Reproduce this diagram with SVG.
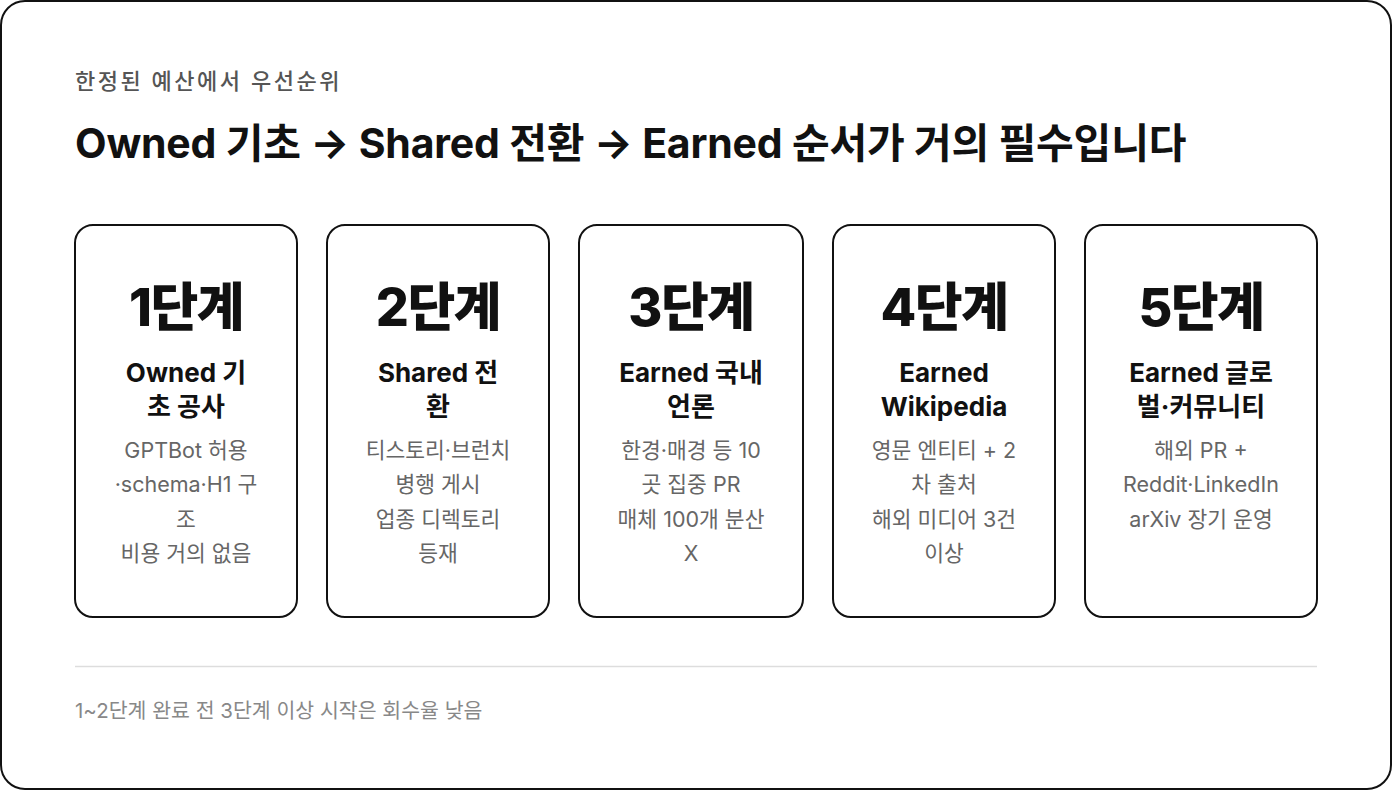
<svg xmlns="http://www.w3.org/2000/svg" width="1392" height="790" viewBox="0 0 1392 790">
<style>
text{font-family:Inter,"Noto Sans CJK KR",sans-serif}
.card{fill:#fff;stroke:#111;stroke-width:2}
.num{font-size:52px;font-weight:800;fill:#111;text-anchor:middle;letter-spacing:-1.5px}
.head{font-size:26px;font-weight:700;fill:#111;text-anchor:middle}
.body{font-size:21.5px;fill:#666;text-anchor:middle}
</style>
<rect x="1" y="1" width="1390" height="788" rx="24" fill="#fff" stroke="#111" stroke-width="2"/>
<text x="75" y="89" font-size="22" font-weight="500" fill="#555" letter-spacing="2.5">한정된 예산에서 우선순위</text>
<text x="75" y="158" font-size="41" font-weight="700" fill="#111" letter-spacing="-0.2">Owned 기초 → Shared 전환 → Earned 순서가 거의 필수입니다</text>
<g id="stage1">
<rect class="card" x="75" y="225" width="222" height="392" rx="18"/>
<text class="num" x="186" y="326">1단계</text>
<text class="head" x="186" y="382">Owned 기</text>
<text class="head" x="186" y="416">초 공사</text>
<text class="body" x="186" y="458">GPTBot 허용</text>
<text class="body" x="186" y="492">·schema·H1 구</text>
<text class="body" x="186" y="527">조</text>
<text class="body" x="186" y="561">비용 거의 없음</text>
</g>
<g id="stage2">
<rect class="card" x="327" y="225" width="222" height="392" rx="18"/>
<text class="num" x="438" y="326">2단계</text>
<text class="head" x="438" y="382">Shared 전</text>
<text class="head" x="438" y="416">환</text>
<text class="body" x="438" y="458">티스토리·브런치</text>
<text class="body" x="438" y="492">병행 게시</text>
<text class="body" x="438" y="527">업종 디렉토리</text>
<text class="body" x="438" y="561">등재</text>
</g>
<g id="stage3">
<rect class="card" x="579" y="225" width="224" height="392" rx="18"/>
<text class="num" x="691" y="326">3단계</text>
<text class="head" x="691" y="382">Earned 국내</text>
<text class="head" x="691" y="416">언론</text>
<text class="body" x="691" y="458">한경·매경 등 10</text>
<text class="body" x="691" y="492">곳 집중 PR</text>
<text class="body" x="691" y="527">매체 100개 분산</text>
<text class="body" x="691" y="561">X</text>
</g>
<g id="stage4">
<rect class="card" x="833" y="225" width="222" height="392" rx="18"/>
<text class="num" x="944" y="326">4단계</text>
<text class="head" x="944" y="382">Earned</text>
<text class="head" x="944" y="416">Wikipedia</text>
<text class="body" x="944" y="458">영문 엔티티 + 2</text>
<text class="body" x="944" y="492">차 출처</text>
<text class="body" x="944" y="527">해외 미디어 3건</text>
<text class="body" x="944" y="561">이상</text>
</g>
<g id="stage5">
<rect class="card" x="1085" y="225" width="232" height="392" rx="18"/>
<text class="num" x="1201" y="326">5단계</text>
<text class="head" x="1201" y="382">Earned 글로</text>
<text class="head" x="1201" y="416">벌·커뮤니티</text>
<text class="body" x="1201" y="458">해외 PR +</text>
<text class="body" x="1201" y="492">Reddit·LinkedIn</text>
<text class="body" x="1201" y="527">arXiv 장기 운영</text>
</g>
<g id="connectors"></g>
<line x1="75" y1="666.5" x2="1317" y2="666.5" stroke="#ddd" stroke-width="1.5"/>
<text x="75" y="718" font-size="20.5" fill="#888">1~2단계 완료 전 3단계 이상 시작은 회수율 낮음</text>
</svg>
